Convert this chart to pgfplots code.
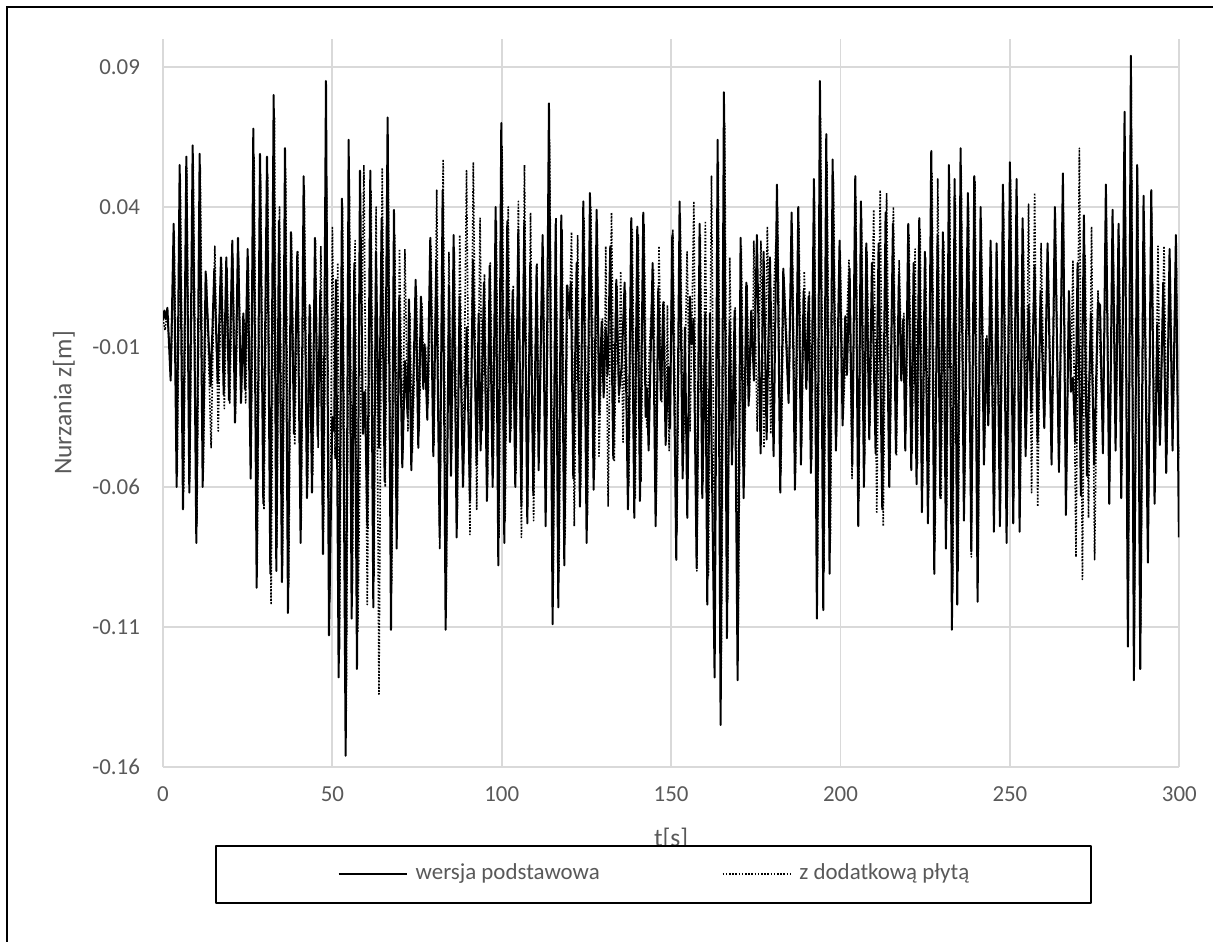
\documentclass[border=0pt]{standalone}
\usepackage{pgfplots}
\pgfplotsset{compat=1.18}
\usepackage{fontspec}
\setmainfont{Carlito}
\definecolor{gridc}{HTML}{D9D9D9}
\definecolor{txtc}{HTML}{595959}
\begin{document}
\begin{tikzpicture}
\path[use as bounding box] (0,0) rectangle (606.5bp,471bp);
\draw[line width=1bp] (3.5bp,0) -- (3.5bp,467.25bp) -- (606.5bp,467.25bp);
\begin{axis}[
  at={(81.5bp,87.5bp)}, anchor=south west,
  scale only axis, width=508.15bp, height=364bp,
  xmin=0, xmax=300, ymin=-0.16, ymax=0.1,
  xtick={0,50,100,150,200,250,300},
  xticklabels={0,50,100,150,200,250,300},
  ytick={-0.16,-0.11,-0.06,-0.01,0.04,0.09},
  yticklabels={-0.16,-0.11,-0.06,-0.01,0.04,0.09},
  extra y ticks={0}, extra y tick labels={},
  extra y tick style={grid=major, major grid style={draw=gridc, line width=0.9bp}},
  grid=major, major grid style={draw=gridc, line width=0.9bp},
  axis line style={draw=none}, tick style={draw=none},
  ticklabel style={font=\fontsize{11.5}{13}\selectfont, text=txtc},
  xticklabel style={yshift=-6.5bp},
  yticklabel style={xshift=-8bp},
  xlabel={t[s]}, ylabel={Nurzania z[m]},
  label style={font=\fontsize{12.8}{15}\selectfont, text=txtc},
  xlabel style={at={(axis description cs:0.5,-0.0989)}, anchor=center},
  ylabel style={at={(axis description cs:-0.0974,0.5)}, anchor=center},
  legend columns=2,
  legend image code/.code={\draw[#1] (0bp,0bp) -- (34bp,0bp); \path (38bp,0bp);},
  legend style={at={(axis description cs:0.4826,-0.147)}, anchor=center,
    draw=black, line width=1bp, inner xsep=61bp, inner ysep=9bp,
    font=\fontsize{11.5}{13}\selectfont, text=txtc,
    nodes={inner sep=0pt, text height=8bp, text depth=2.5bp},
    /tikz/every even column/.append style={column sep=61bp}},
  line join=round,
]
\addplot[black, line width=1bp, line join=round] coordinates {
(0,0.000) (0.4,0.003) (0.8,0.000) (1.3,0.004) (2.26,-0.022) (3.15,0.034) (4.03,-0.060) (4.92,0.055) (5.90,-0.068) (6.89,0.058) (7.77,-0.062) (8.76,0.062) (9.84,-0.080) (10.82,0.059) (11.71,-0.060) (12.59,0.017) (14.07,-0.024) (15.15,0.018) (16.14,-0.023) (17.12,0.022) (17.91,-0.027) (18.69,0.022) (19.48,-0.029) (20.46,0.028) (21.25,-0.037) (22.14,0.029) (23.02,-0.030) (23.71,0.002) (24.20,-0.025) (24.99,0.025) (25.88,-0.057) (26.66,0.068) (27.65,-0.096) (28.63,0.059) (29.61,-0.066) (30.70,0.058) (31.68,-0.091) (32.67,0.080) (33.45,-0.090) (34.24,0.035) (35.12,-0.094) (36.01,0.061) (36.89,-0.105) (37.78,0.031) (38.67,-0.041) (39.65,0.024) (40.63,-0.080) (41.52,0.051) (42.50,-0.064) (43.29,0.005) (43.98,-0.062) (44.86,0.029) (45.65,-0.042) (46.44,0.010) (47.23,-0.084) (48.11,0.085) (49.00,-0.113) (49.98,-0.035) (50.5,-0.040) (51.06,0.014)
(51.85,-0.128) (52.83,0.043) (53.92,-0.156) (54.80,0.064) (55.69,-0.107) (56.47,0.020) (57.26,-0.125) (58.15,0.053) (59.03,-0.041) (59.62,-0.026) (60.31,-0.074) (61.20,0.053) (62.08,-0.103) (62.87,0.024) (63.75,-0.046) (64.54,0.036) (65.43,-0.058) (66.31,0.072) (67.30,-0.111) (68.18,0.039) (68.97,-0.082) (69.75,0.008) (70.64,-0.053) (71.43,-0.015) (72.22,-0.035) (72.61,0.007) (73.30,-0.054) (74.58,0.014) (75.36,-0.046) (76.15,0.008) (76.84,-0.025) (77.23,-0.009) (78.02,-0.036) (78.90,0.029) (79.79,-0.049) (80.68,0.021) (81.66,-0.078) (82.55,0.046) (83.43,-0.111) (84.42,0.012) (85.01,-0.056) (85.79,0.030) (86.68,-0.078) (87.56,0.008) (88.55,-0.060) (89.63,-0.003) (90.61,-0.065) (91.50,0.021) (92.58,-0.052) (93.17,0.002) (93.76,-0.047) (94.75,0.013) (95.63,-0.065) (96.42,0.019) (97.31,-0.060) (98.19,0.040) (98.98,-0.088) (99.86,0.070) (100.75,-0.080)
(101.63,0.035) (102.42,-0.044) (103.21,0.010) (103.99,-0.060) (104.88,0.032) (105.77,-0.067) (106.65,0.035) (107.54,-0.073) (108.42,0.020) (109.31,-0.063) (110.29,0.019) (110.88,-0.054) (112.06,0.030) (112.95,-0.074) (113.93,0.077) (115.01,-0.109) (115.90,0.034) (116.69,-0.103) (117.57,0.037) (118.46,-0.088) (119.24,0.012) (119.83,0.003) (120.42,0.013) (121.11,-0.057) (122.10,0.020) (123.08,-0.067) (124.07,0.042) (125.05,-0.080) (126.03,0.045) (127.12,-0.061) (128.00,0.039) (128.79,-0.034) (129.48,-0.001) (130.07,-0.028) (130.66,-0.003) (131.25,-0.020) (132.03,0.026) (132.92,-0.050) (133.81,0.014) (134.59,-0.027) (135.38,-0.017) (136.27,0.013) (137.25,-0.068) (138.23,0.036) (139.12,-0.071) (140.00,0.033) (140.79,-0.065) (141.77,0.038) (142.46,-0.035) (142.9,-0.025) (143.35,-0.047) (144.53,0.020) (145.42,-0.074) (146.20,0.011) (146.99,-0.029) (147.68,0.006) (148.37,-0.045) (149.15,-0.017) (149.65,-0.039) (150.33,0.030)
(151.51,-0.086) (152.50,0.042) (153.39,-0.057) (154.07,-0.003) (154.76,-0.071) (155.55,0.008) (156.04,-0.009) (156.63,0.000) (157.52,-0.089) (158.40,0.034) (159.19,-0.064) (160.07,0.002) (160.66,-0.102) (161.45,0.002) (162.83,-0.128) (163.72,0.064) (164.60,-0.145) (165.58,0.081) (166.47,-0.114) (167.26,-0.001) (167.95,-0.052) (168.73,0.003) (169.62,-0.129) (170.50,0.029) (171.39,-0.064) (172.18,0.013) (172.87,-0.031) (173.65,0.003) (174.44,-0.022) (175.32,0.030) (176.41,-0.048) (177.29,0.024) (178.18,-0.043) (179.16,0.022) (180.24,-0.049) (181.23,0.048) (182.21,-0.062) (183.10,0.018) (184.67,-0.030) (185.56,0.038) (186.54,-0.061) (187.52,0.040) (188.31,-0.052) (189.10,0.010) (189.89,-0.025) (190.58,0.008) (191.26,-0.055) (192.15,0.050) (193.03,-0.107) (193.92,0.085) (194.90,-0.104) (195.79,0.066) (196.77,-0.091) (197.66,0.057) (198.64,-0.047) (199.72,0.028) (200.61,-0.038)
(201.40,0.001) (201.89,-0.020) (202.68,0.018) (203.46,-0.052) (204.35,0.051) (205.23,-0.074) (206.02,0.042) (206.91,-0.060) (207.60,0.027) (208.48,-0.043) (209.27,0.020) (210.35,-0.048) (211.24,0.027) (212.32,-0.068) (213.30,0.038) (214.38,-0.060) (215.47,0.034) (216.35,-0.048) (217.24,0.016) (217.93,-0.022) (218.52,0.000) (219.11,-0.047) (219.99,0.034) (220.88,-0.054) (221.57,0.020) (222.45,-0.059) (223.24,0.036) (224.03,-0.069) (224.91,0.024) (225.80,-0.073) (226.78,0.060) (227.67,-0.091) (228.65,0.030) (229.44,-0.064) (230.22,0.031) (231.11,-0.082) (232.00,0.055) (232.88,-0.111) (233.67,0.050) (234.45,-0.102) (235.44,0.061) (236.42,-0.072) (237.60,0.045) (238.59,-0.083) (239.47,0.051) (240.46,-0.101) (241.34,0.040) (242.33,-0.052) (243.01,-0.007) (243.60,-0.038) (244.29,0.028) (245.28,-0.076) (246.06,0.027) (247.05,-0.074) (247.93,0.048) (249.02,-0.080) (250.00,0.056) (250.98,-0.073)
(251.97,0.050) (252.86,-0.076) (253.74,0.036) (254.63,-0.049) (255.51,0.005) (256.30,-0.033) (257.28,0.019) (258.17,-0.044) (259.05,0.010) (260.14,-0.039) (261.12,0.027) (262.30,-0.052) (263.28,0.040) (264.46,-0.054) (265.64,0.052) (266.53,-0.070) (267.41,0.010) (268.00,-0.026) (268.59,-0.021) (269.28,-0.044) (269.97,0.020) (270.95,-0.063) (271.84,0.037) (272.73,-0.056) (273.91,0.002) (274.89,-0.052) (275.97,0.006) (276.6,0.005) (277.45,-0.048) (278.33,0.048) (279.32,-0.066) (280.30,0.039) (281.19,-0.047) (282.07,0.034) (282.86,-0.064) (283.85,0.074) (284.83,-0.117) (285.71,0.094) (286.60,-0.129) (287.58,0.055) (288.47,-0.125) (289.45,0.044) (290.73,-0.087) (291.72,0.046) (292.70,-0.066) (293.49,-0.002) (294.27,-0.045) (295.26,0.013) (296.14,-0.055) (297.13,0.025) (298.01,-0.047) (299.00,0.030) (299.88,-0.078)
};
\addlegendentry{wersja podstawowa}
\addplot[black, line width=0.8bp, dash pattern=on 0.8bp off 0.8bp, line join=round] coordinates {
(0,0.000) (0.6,-0.004) (1.2,0.002) (2.4,-0.018) (3.3,0.030) (4.2,-0.055) (5.1,0.050) (6.1,-0.062) (7.0,0.054) (7.9,-0.058) (8.9,0.057) (10.0,-0.074) (11.0,0.054) (11.9,-0.055) (12.8,0.015) (14.2,-0.046) (15.3,0.026) (16.3,-0.040) (17.3,0.020) (18.1,-0.032) (18.9,0.018) (19.7,-0.030) (20.6,0.022) (21.4,-0.034) (22.3,0.022) (23.1,-0.028) (23.9,0.000) (24.4,-0.030) (25.2,0.020) (26.0,-0.050) (26.9,0.058) (27.8,-0.088) (28.8,0.052) (29.8,-0.068) (30.9,0.052) (31.9,-0.102) (32.9,0.072) (33.6,-0.082) (34.4,0.040) (35.3,-0.088) (36.2,0.054) (37.1,-0.096) (37.9,0.030) (38.9,-0.045) (39.8,0.024) (40.8,-0.072) (41.7,0.046) (42.7,-0.060) (43.5,0.004) (44.2,-0.056) (45.0,0.028) (45.8,-0.046) (46.6,0.026) (47.4,-0.076) (48.3,0.047) (49.2,-0.100) (50.0,0.033) (50.8,-0.050) (51.6,0.020) (52.1,-0.118) (53.0,0.040) (54.1,-0.140) (55.0,0.050) (55.9,-0.098) (56.7,0.028) (57.5,-0.112) (58.4,-0.030) (59.3,0.055) (60.3,-0.102) (61.4,0.046) (62.3,-0.092) (62.9,0.040) (63.75,-0.134) (64.7,0.054) (65.6,-0.060) (66.5,0.050) (67.5,-0.095) (68.4,0.030) (69.2,-0.070) (69.8,0.025) (70.8,-0.048) (71.4,0.025) (72.3,-0.040) (72.9,0.002) (73.6,-0.048) (74.8,0.010) (75.6,-0.040) (76.4,0.006) (77.1,-0.022) (77.5,-0.010) (78.3,-0.030) (79.1,0.026) (80.0,-0.045) (80.8,0.046) (81.7,-0.082) (82.7,0.057) (83.6,-0.100) (84.4,0.024) (85.2,-0.050) (86.0,0.024) (86.9,-0.070) (87.6,0.030) (88.6,-0.060) (89.6,0.053) (90.6,-0.077) (91.6,0.056) (92.6,-0.068) (93.6,0.036) (94.2,-0.040) (94.9,0.016) (95.8,-0.060) (96.6,0.020) (97.5,-0.055) (98.4,0.035) (99.2,-0.078) (100.1,0.062) (101.0,-0.072)
(101.9,0.040) (102.7,-0.040) (103.4,0.012) (104.2,-0.055) (104.9,0.042) (105.8,-0.078) (106.7,0.055) (107.6,-0.068) (108.5,0.038) (109.4,-0.072) (110.4,0.020) (111.0,-0.048) (112.2,0.026) (113.1,-0.066) (114.1,0.064) (115.2,-0.095) (116.0,0.036) (116.9,-0.090) (117.8,0.032) (118.7,-0.078) (119.4,0.012) (120.0,0.000) (120.6,0.031) (121.4,-0.074) (122.4,0.030) (123.3,-0.060) (124.3,0.036) (125.3,-0.070) (126.3,0.040) (127.4,-0.054) (128.2,0.034) (128.7,-0.049) (129.7,0.000) (130.3,-0.025) (130.7,0.026) (131.4,-0.067) (132.4,0.038) (133.2,-0.051) (134.0,0.012) (134.6,-0.030) (135.1,0.017) (135.8,-0.044) (136.5,0.010) (137.5,-0.060) (138.5,0.032) (139.4,-0.064) (140.3,0.030) (141.1,-0.058) (142.0,0.034) (142.8,-0.039) (143.6,-0.010) (144.8,0.018) (145.6,-0.066) (146.4,0.026) (147.2,-0.030) (147.9,0.006) (148.5,-0.040) (148.9,0.005) (149.4,-0.047) (150.5,0.032)
(151.7,-0.076) (152.7,0.036) (153.6,-0.050) (154.7,0.024) (155.6,-0.040) (156.7,0.042) (157.6,-0.090) (158.6,0.030) (159.4,-0.058) (160.1,0.035) (161.0,-0.092) (161.9,0.051) (162.8,-0.081) (163.9,0.056) (164.8,-0.125) (165.8,0.070) (166.7,-0.100) (167.3,0.022) (168.1,-0.045) (168.9,0.004) (169.8,-0.110) (170.7,0.026) (171.6,-0.056) (172.4,0.012) (173.1,-0.028) (173.8,0.000) (174.1,-0.010) (174.4,0.028) (175.4,-0.040) (176.5,0.028) (177.4,-0.046) (178.4,0.033) (179.4,-0.041) (180.4,0.013) (181.4,0.040) (182.4,-0.055) (183.3,0.015) (184.8,-0.027) (185.7,0.034) (186.7,-0.055) (187.7,0.035) (188.5,-0.046) (189.3,0.017) (190.1,-0.022) (190.8,0.010) (191.5,-0.050) (192.3,0.042) (193.2,-0.092) (194.1,0.072) (195.1,-0.090) (196.0,0.056) (197.0,-0.080) (197.9,0.050) (198.8,-0.042) (199.9,0.024) (200.8,-0.034)
(201.6,-0.010) (202.5,0.021) (203.4,-0.057) (204.5,0.044) (205.4,-0.065) (206.2,0.036) (207.1,-0.052) (207.8,0.024) (208.7,-0.038) (209.8,0.039) (210.7,-0.069) (211.7,0.046) (212.6,-0.074) (213.6,0.045) (214.6,-0.054) (215.6,0.040) (216.5,-0.049) (217.3,0.021) (218.1,-0.020) (218.7,0.002) (219.3,-0.040) (220.2,0.030) (221.1,-0.048) (222.0,0.025) (222.7,-0.052) (223.5,0.032) (224.2,-0.060) (225.1,0.022) (226.0,-0.064) (227.0,0.052) (227.9,-0.080) (228.7,0.050) (229.7,-0.064) (230.5,0.028) (231.3,-0.072) (232.2,0.048) (233.1,-0.098) (233.9,0.044) (234.7,-0.090) (235.6,0.054) (236.6,-0.064) (237.8,0.040) (238.6,-0.085) (239.7,0.049) (240.6,-0.090) (241.5,0.036) (242.5,-0.046) (243.2,-0.006) (243.8,-0.034) (244.5,0.024) (245.4,-0.068) (246.2,0.024) (247.2,-0.066) (248.1,0.042) (249.2,-0.070) (250.2,0.050)
(251.1,-0.065) (252.1,0.044) (253.0,-0.068) (253.9,0.032) (254.8,-0.044) (255.5,0.041) (256.4,-0.062) (257.3,0.045) (258.2,-0.067) (259.2,0.027) (260.2,-0.035) (261.2,0.024) (262.4,-0.046) (263.4,0.036) (264.5,-0.055) (265.7,0.046) (266.6,-0.062) (267.5,0.009) (268.0,-0.020) (268.6,0.021) (269.5,-0.085) (270.5,0.061) (271.4,-0.093) (272.2,0.023) (273.2,-0.071) (274.1,0.033) (275.0,-0.086) (276.0,0.010) (277.5,-0.042) (278.4,0.042) (279.4,-0.058) (280.4,0.034) (281.3,-0.042) (282.2,0.030) (283.0,-0.056) (283.9,0.064) (284.9,-0.104) (285.8,0.082) (286.7,-0.114) (287.7,0.048) (288.6,-0.110) (289.6,0.038) (290.8,-0.076) (291.8,0.040) (292.8,-0.058) (293.7,0.026) (294.4,-0.040) (295.5,0.026) (296.3,-0.048) (297.2,0.022) (298.1,-0.042) (299.1,0.026) (299.6,-0.042) (300,-0.050)
};
\addlegendentry{z dodatkową płytą}
\end{axis}
\end{tikzpicture}
\end{document}
